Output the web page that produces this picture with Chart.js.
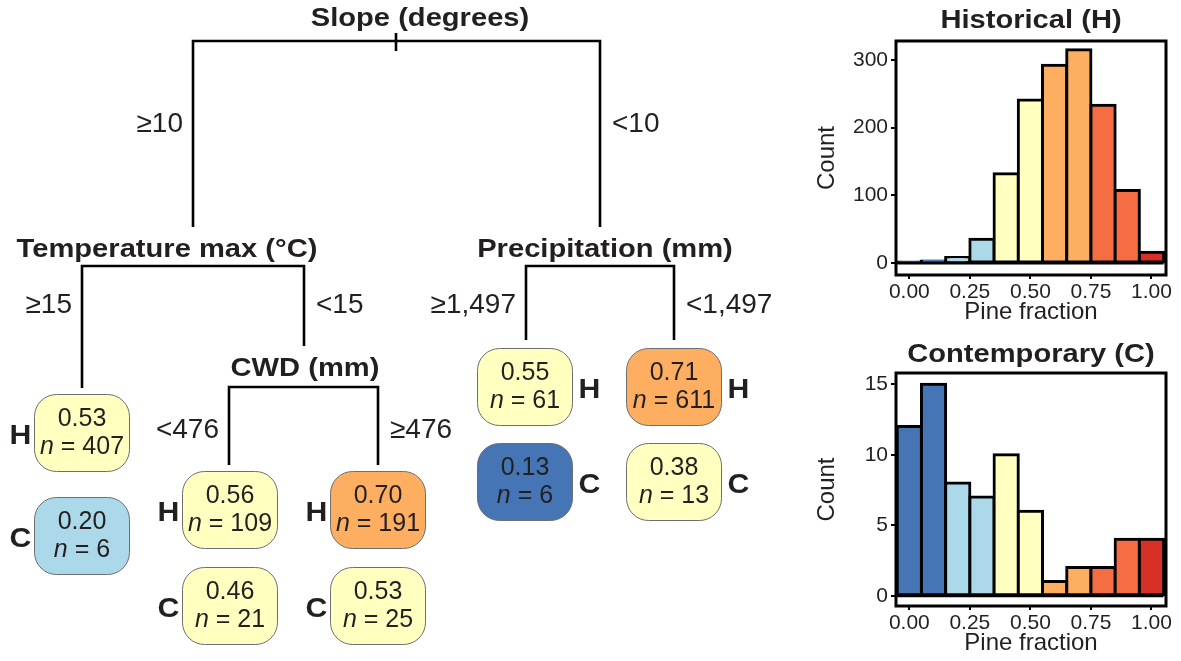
<!DOCTYPE html>
<html>
<head>
<meta charset="utf-8">
<script src="https://cdn.jsdelivr.net/npm/chart.js@4.4.0/dist/chart.umd.min.js"></script>
<style>
  html, body { margin: 0; padding: 0; background: #fff; }
  #wrap { position: relative; width: 1181px; height: 661px; overflow: hidden; }
  canvas { position: absolute; }
  #tree { left: 0; top: 0; }
  #histH { left: 800px; top: 0; }
  #histC { left: 800px; top: 330px; }
</style>
</head>
<body>
<div id="wrap">
  <canvas id="tree" width="800" height="661"></canvas>
  <canvas id="histH" width="381" height="330"></canvas>
  <canvas id="histC" width="381" height="331"></canvas>
</div>
<script>
// ---- data ----
const splitNames = ['Slope (degrees)', 'Temperature max (°C)', 'CWD (mm)', 'Precipitation (mm)'];
const splitLeftLabels = ['≥10', '≥15', '<476', '≥1,497'];
const splitRightLabels = ['<10', '<15', '≥476', '<1,497'];

// leaves, left to right: Tmax >=15, CWD <476, CWD >=476, Precip >=1,497, Precip <1,497
const histMean = [0.53, 0.56, 0.70, 0.55, 0.71];
const histN = [407, 109, 191, 61, 611];
const contMean = [0.20, 0.46, 0.53, 0.13, 0.38];
const contN = [6, 21, 25, 6, 13];

const binCenters = [0, 0.1, 0.2, 0.3, 0.4, 0.5, 0.6, 0.7, 0.8, 0.9, 1.0];
const histCounts = [1, 3, 8, 35, 132, 241, 292, 315, 233, 107, 16];
const contCounts = [12, 15, 8, 7, 10, 6, 1, 2, 2, 4, 4];

const xTickValues = [0, 0.25, 0.5, 0.75, 1];
const histTickValues = [0, 100, 200, 300];
const contTickValues = [0, 5, 10, 15];

// ---- style ----
const FONT = '"Liberation Sans", Arial, Helvetica, sans-serif';
const INK = '#231f20';
const BOLD_STRETCH = 1.12;   // the bold face in the figure is wider than Arial bold

function fracColor(v) {
  if (v < 0.15) return '#4575b4';
  if (v < 0.35) return '#abd9e9';
  if (v < 0.6) return '#ffffbf';
  if (v < 0.75) return '#fdae61';
  if (v < 0.95) return '#f46d43';
  return '#d73027';
}

function stretchText(ctx, text, x, y, align, sx) {
  ctx.save();
  ctx.translate(x, y);
  ctx.scale(sx, 1);
  ctx.textAlign = align;
  ctx.fillText(text, 0, 0);
  ctx.restore();
}

// ---- tree layout (tree canvas units) ----
const splitLayout = [
  { lx: 420, ly: 19, bar: 41, xl: 193, xr: 600, endL: 227, endR: 227, ty: 124, tick: 396 },
  { lx: 167, ly: 250, bar: 266, xl: 82, xr: 304, endL: 388, endR: 346, ty: 305 },
  { lx: 305, ly: 369, bar: 387, xl: 229, xr: 378, endL: 465, endR: 465, ty: 430 },
  { lx: 605, ly: 250, bar: 266, xl: 526, xr: 674, endL: 340, endR: 340, ty: 305 }
];
const leafLayout = [
  { cx: 82, hy: 433, cy: 536, side: 'left' },
  { cx: 230, hy: 510, cy: 606, side: 'left' },
  { cx: 378, hy: 510, cy: 606, side: 'left' },
  { cx: 525, hy: 387, cy: 482, side: 'right' },
  { cx: 674, hy: 387, cy: 482, side: 'right' }
];
const boxW = 95, boxH = 77;

const treeLines = [];
splitLayout.forEach(s => {
  treeLines.push([[s.xl, s.endL], [s.xl, s.bar], [s.xr, s.bar], [s.xr, s.endR]]);
  if (s.tick) treeLines.push([[s.tick, s.bar - 8], [s.tick, s.bar + 10]]);
});

function roundBox(ctx, x, y, w, h, r) {
  ctx.beginPath();
  ctx.moveTo(x + r, y);
  ctx.arcTo(x + w, y, x + w, y + h, r);
  ctx.arcTo(x + w, y + h, x, y + h, r);
  ctx.arcTo(x, y + h, x, y, r);
  ctx.arcTo(x, y, x + w, y, r);
  ctx.closePath();
}

function drawLeaf(ctx, cx, cy, w, h, mean, n, tag, side) {
  const x = cx - w / 2, y = cy - h / 2;
  roundBox(ctx, x, y, w, h, 22);
  ctx.fillStyle = fracColor(mean);
  ctx.fill();
  ctx.lineWidth = 1;
  ctx.strokeStyle = '#6d6e71';
  ctx.stroke();

  ctx.fillStyle = INK;
  ctx.textBaseline = 'middle';
  ctx.textAlign = 'center';
  ctx.font = '25px ' + FONT;
  ctx.fillText(mean.toFixed(2), cx, cy - 14);

  const rest = ' = ' + n;
  ctx.font = 'italic 25px ' + FONT;
  const w1 = ctx.measureText('n').width;
  ctx.font = '25px ' + FONT;
  const w2 = ctx.measureText(rest).width;
  const sx = cx - (w1 + w2) / 2;
  ctx.textAlign = 'left';
  ctx.font = 'italic 25px ' + FONT;
  ctx.fillText('n', sx, cy + 14);
  ctx.font = '25px ' + FONT;
  ctx.fillText(rest, sx + w1, cy + 14);

  ctx.font = 'bold 27px ' + FONT;
  const tx = side === 'left' ? x - 14 : x + w + 17;
  stretchText(ctx, tag, tx, cy + 4, 'center', BOLD_STRETCH);
}

const treePlugin = {
  id: 'treeText',
  afterDatasetsDraw(chart) {
    const ctx = chart.ctx;
    const sx = chart.scales.x, sy = chart.scales.y;
    const px = v => sx.getPixelForValue(v);
    const py = v => sy.getPixelForValue(v);
    ctx.save();
    ctx.fillStyle = INK;
    ctx.textBaseline = 'middle';
    splitLayout.forEach((s, i) => {
      ctx.font = 'bold 26px ' + FONT;
      stretchText(ctx, splitNames[i], px(s.lx), py(s.ly), 'center', BOLD_STRETCH);
      ctx.font = '28px ' + FONT;
      ctx.textAlign = 'right';
      ctx.fillText(splitLeftLabels[i], px(s.xl - 10), py(s.ty));
      ctx.textAlign = 'left';
      ctx.fillText(splitRightLabels[i], px(s.xr + 12), py(s.ty));
    });
    const w = px(boxW) - px(0), h = py(boxH) - py(0);
    leafLayout.forEach((l, i) => {
      drawLeaf(ctx, px(l.cx), py(l.hy), w, h, histMean[i], histN[i], 'H', l.side);
      drawLeaf(ctx, px(l.cx), py(l.cy), w, h, contMean[i], contN[i], 'C', l.side);
    });
    ctx.restore();
  }
};

new Chart(document.getElementById('tree'), {
  type: 'scatter',
  data: {
    datasets: treeLines.map(pts => ({
      data: pts.map(p => ({ x: p[0], y: p[1] })),
      showLine: true,
      borderColor: '#000',
      borderWidth: 2.6,
      borderJoinStyle: 'miter',
      pointRadius: 0,
      tension: 0
    }))
  },
  options: {
    responsive: false,
    animation: false,
    events: [],
    layout: { padding: 0 },
    plugins: { legend: { display: false }, tooltip: { enabled: false } },
    scales: {
      x: { type: 'linear', display: false, min: 0, max: 800 },
      y: { type: 'linear', display: false, min: 0, max: 661, reverse: true }
    }
  },
  plugins: [treePlugin]
});

// ---- histograms ----
const framePlugin = {
  id: 'frame',
  afterDatasetsDraw(chart, args, opts) {
    const { ctx, chartArea: a, scales } = chart;
    const y0 = scales.y.getPixelForValue(0);
    ctx.save();
    ctx.strokeStyle = '#000';
    ctx.lineWidth = 3;
    ctx.beginPath();
    ctx.moveTo(scales.x.getPixelForValue(-0.05), y0);
    ctx.lineTo(scales.x.getPixelForValue(1.05), y0);
    ctx.stroke();
    ctx.strokeRect(a.left, a.top, a.right - a.left, a.bottom - a.top);
    // panel title, centred over the plot area
    ctx.fillStyle = INK;
    ctx.textBaseline = 'middle';
    ctx.font = 'bold 26px ' + FONT;
    stretchText(ctx, opts.text, (a.left + a.right) / 2, opts.y, 'center', BOLD_STRETCH);
    ctx.restore();
  }
};

function histogram(id, title, counts, yMin, yMax, yTicks, top, titleY) {
  new Chart(document.getElementById(id), {
    type: 'bar',
    data: {
      datasets: [{
        data: binCenters.map((x, i) => ({ x: x, y: counts[i] })),
        backgroundColor: binCenters.map(fracColor),
        borderColor: '#000',
        borderWidth: 3,
        borderSkipped: false,
        inflateAmount: 1.5,
        barPercentage: 1,
        categoryPercentage: 1
      }]
    },
    options: {
      responsive: false,
      animation: false,
      events: [],
      layout: { padding: { left: 0, right: 15, top: top, bottom: 0 } },
      plugins: {
        legend: { display: false },
        tooltip: { enabled: false },
        frame: { text: title, y: titleY }
      },
      scales: {
        x: {
          type: 'linear',
          offset: false,
          min: -0.055,
          max: 1.06,
          afterBuildTicks: s => { s.ticks = xTickValues.map(v => ({ value: v })); },
          afterFit: s => { s.height = 55; },
          ticks: { color: INK, font: { family: FONT, size: 21 }, maxRotation: 0, autoSkip: false,
                   padding: 1, callback: v => v.toFixed(2) },
          grid: { offset: false, drawOnChartArea: false, tickLength: 4, color: '#000', lineWidth: 2 },
          border: { display: false },
          title: { display: true, text: 'Pine fraction', color: INK,
                   font: { family: FONT, size: 24 }, padding: { top: 0, bottom: 3 } }
        },
        y: {
          type: 'linear',
          min: yMin,
          max: yMax,
          afterBuildTicks: s => { s.ticks = yTicks.map(v => ({ value: v })); },
          afterFit: s => { s.width = 96; },
          ticks: { color: INK, font: { family: FONT, size: 21 }, padding: 3 },
          grid: { drawOnChartArea: false, tickLength: 5, color: '#000', lineWidth: 2 },
          border: { display: false },
          title: { display: true, text: 'Count', color: INK,
                   font: { family: FONT, size: 24 }, padding: { top: 13, bottom: 0 } }
        }
      }
    },
    plugins: [framePlugin]
  });
}

histogram('histH', 'Historical (H)', histCounts, -17.7, 328, histTickValues, 41, 21);
histogram('histC', 'Contemporary (C)', contCounts, -0.73, 15.8, contTickValues, 43, 25);
</script>
</body>
</html>
